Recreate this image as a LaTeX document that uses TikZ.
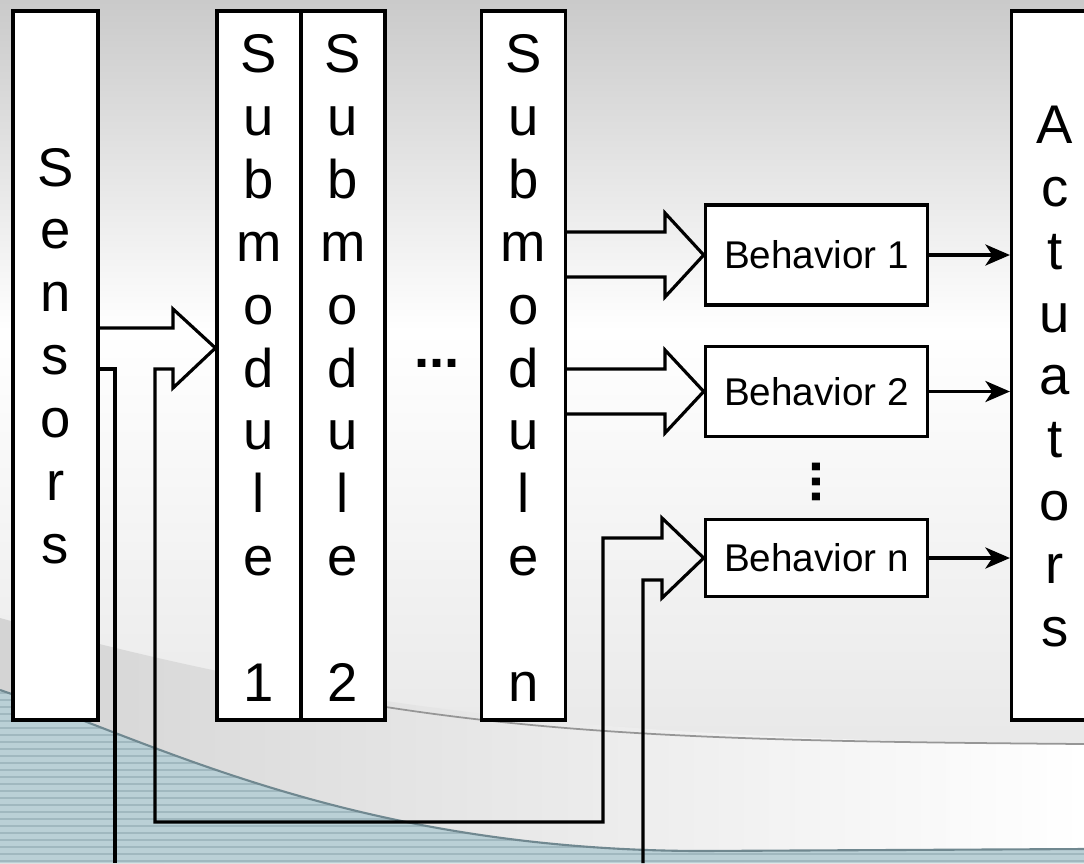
\documentclass[tikz,border=0pt]{standalone}
\usepackage{fontspec}
\setmainfont{Liberation Sans}
\usetikzlibrary{arrows.meta, calc}
\definecolor{slidetop}{RGB}{202,202,202}
\definecolor{slidelow}{RGB}{226,226,226}
\definecolor{swooshgray}{RGB}{212,212,212}
\definecolor{swooshline}{RGB}{150,150,150}
\definecolor{seablue}{RGB}{186,208,214}
\definecolor{seastripe}{RGB}{160,184,191}
\definecolor{seaedge}{RGB}{112,136,144}
\tikzset{
x=0.02cm, y=-0.02cm, % one unit is one pixel of the slide, y runs downwards
>={Stealth[length=14pt, width=12pt, inset=4pt]}, % the small arrow heads
column/.style={draw, line width=1.8pt, fill=white, minimum width=1.68cm, minimum height=14.18cm, inner sep=0pt}, % the tall boxes
word/.style={align=center, inner sep=0pt, font=\fontsize{31}{35.8}\selectfont}, % letters written top to bottom
behavior/.style={draw, line width=1.8pt, fill=white, minimum width=4.45cm, font=\fontsize{22}{26}\selectfont}, % the behavior boxes
dots/.style={inner sep=0pt, font=\bfseries\fontsize{31}{36}\selectfont}, % the ellipses
pipe/.style={line width=1.8pt, line join=miter}, % outline of the hollow arrows
link/.style={line width=1.8pt, ->}, % behavior to actuators
}

\begin{document}
\begin{tikzpicture}
      \useasboundingbox (0,0) rectangle (1084,863);

      % slide background
      \shade[top color=slidetop, bottom color=white] (0,0) rectangle (1084,331);
      \shade[top color=white, bottom color=slidelow] (0,330) rectangle (1084,863);
      \shade[left color=swooshgray, right color=white] (0,618) .. controls (300,700) and (550,740) .. (1084,744) -- (1084,863) -- (0,863) -- cycle;
      \draw[swooshline, line width=1pt] (250,682) .. controls (500,735) and (700,741) .. (1084,744);
      \begin{scope}
        \clip (0,690) .. controls (150,740) and (350,850) .. (700,851) -- (1084,849) -- (1084,863) -- (0,863) -- cycle;
        \fill[seablue] (0,600) rectangle (1084,863);
        \foreach \y in {686,693,...,863}
          \draw[seastripe, line width=1.1pt] (0,\y) -- (1084,\y);
      \end{scope}
      \draw[seaedge, line width=1.2pt] (0,690) .. controls (150,740) and (350,850) .. (700,851) -- (1084,849);

      % boxes
      \node[column, minimum width=1.7cm] (sensors) at (55.5,365.5) {};
      \node[column] (sub1) at (259,365.5) {};
      \node[column] (sub2) at (343,365.5) {};
      \node[column] (subn) at (523.5,365.5) {};
      \node[column, minimum width=1.8cm] (act) at (1056.5,365.5) {};
      \node[behavior, minimum height=2cm] (b1) at (816.5,255) {Behavior 1};
      \node[behavior, minimum height=1.8cm] (b2) at (816.5,391.5) {Behavior 2};
      \node[behavior, minimum height=1.54cm] (bn) at (816.5,558) {Behavior n};

      \node[word] (sensorsword) at ($(sensors)+(0,-9.5)$) {S\\e\\n\\s\\o\\r\\s};
      \node[word] (sub1word) at ($(sub1)+(0,2.5)$) {S\\u\\b\\m\\o\\d\\u\\l\\e\\\mbox{}\\1};
      \node[word] (sub2word) at ($(sub2)+(0,2.5)$) {S\\u\\b\\m\\o\\d\\u\\l\\e\\\mbox{}\\2};
      \node[word] (subnword) at ($(subn)+(0,2.5)$) {S\\u\\b\\m\\o\\d\\u\\l\\e\\\mbox{}\\n};
      \node[word] (actword) at ($(act)+(-1.5,11)$) {A\\c\\t\\u\\a\\t\\o\\r\\s};

      \node[dots] (hdots) at (437,363) {...};
      \node[dots, rotate=90] (vdots) at (816,482) {...};

      % hollow arrows
      \draw[pipe] (sensors.east |- 0,328) -- (173,328) -- (173,309) -- (sub1.west |- 0,348) -- (173,388) -- (173,369) -- (155,369)
        -- (155,822) -- (603,822) -- (603,538) -- (662,538) -- (662,518) -- (bn.west) -- (662,598) -- (662,580) -- (643,580) -- (643,863);
      \draw[pipe] (sensors.east |- 0,369) -- (115,369) -- (115,863);
      \draw[pipe] (subn.east |- 0,232) -- (665,232) -- (665,213) -- (b1.west) -- (665,297) -- (665,277) -- (subn.east |- 0,277);
      \draw[pipe] (subn.east |- 0,369) -- (665,369) -- (665,350) -- (b2.west) -- (665,433) -- (665,414) -- (subn.east |- 0,414);

      \draw[link] (b1.east) -- (b1.east -| act.west);
      \draw[link] (b2.east) -- (b2.east -| act.west);
      \draw[link] (bn.east) -- (bn.east -| act.west);
    \end{tikzpicture}
\end{document}
